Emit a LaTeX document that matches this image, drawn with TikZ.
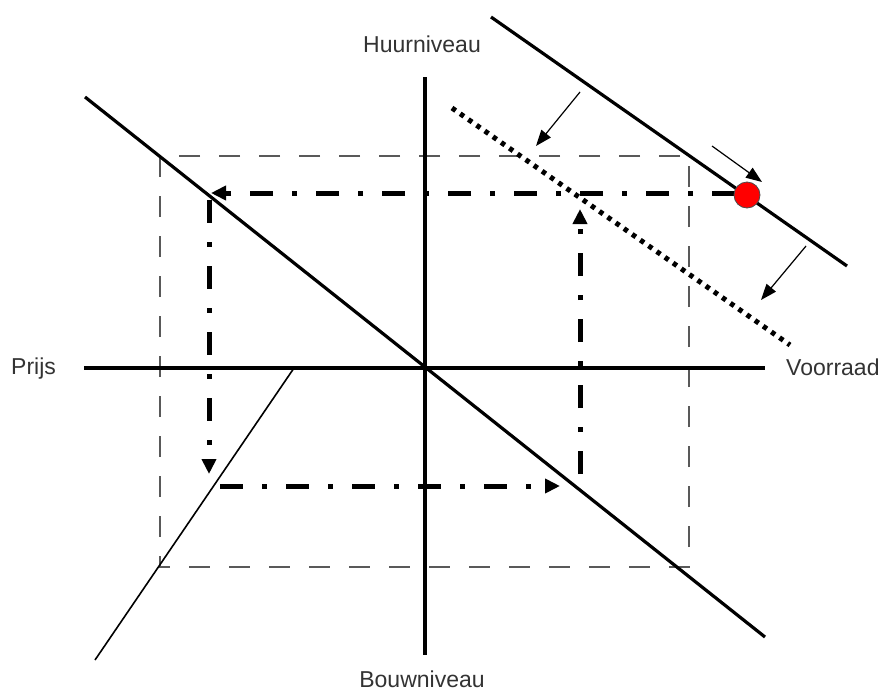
\documentclass[tikz,border=0pt]{standalone}
\usepackage{fontspec}
\setmainfont{Liberation Sans}
\usetikzlibrary{arrows.meta}
\tikzset{
  axis/.style={line width=3.3pt, black},
  curve/.style={line width=3.2pt, black},
  thincurve/.style={line width=1.6pt, black},
  shifted/.style={line width=5pt, black, dash pattern=on 4.5pt off 5.5pt},
  frame/.style={line width=1.3pt, black!65, dash pattern=on 21pt off 19pt},
  flow/.style={line width=5pt, black, dash pattern=on 23pt off 19pt on 5pt off 19pt,
    -{Triangle[length=15pt,width=14pt]}},
  shiftarrow/.style={line width=1.2pt, black, -{Triangle[length=16pt,width=12pt]}},
  lbl/.style={font=\fontsize{23}{27}\selectfont, text=black!80, inner sep=0pt},
  pt/.style={circle, fill=red, draw=black!70, line width=0.8pt, minimum size=26pt, inner sep=0pt}
}
\begin{document}
\begin{tikzpicture}[x=1pt,y=-1pt]
\useasboundingbox (0,0) rectangle (886,691);
% coordinates
\coordinate (vtop) at (425,77);
\coordinate (vbot) at (425,655);
\coordinate (hl) at (84,368);
\coordinate (hr) at (765,368);
\coordinate (d1) at (85,97);
\coordinate (d2) at (765,637);
\coordinate (u1) at (491,17);
\coordinate (u2) at (847,266);
\coordinate (t1) at (452,108);
\coordinate (t2) at (790,345);
\coordinate (s1) at (294,368);
\coordinate (s2) at (95,660);
\coordinate (r1) at (160,156);
\coordinate (r2) at (689,567);
\coordinate (a1s) at (735,193);
\coordinate (a1e) at (211,193);
\coordinate (a2s) at (209,200);
\coordinate (a2e) at (209,474);
\coordinate (a3s) at (220,486);
\coordinate (a3e) at (560,486);
\coordinate (a4s) at (580,474);
\coordinate (a4e) at (580,209);
\coordinate (m1s) at (580,92);
\coordinate (m1e) at (536,146);
\coordinate (m2s) at (712,146);
\coordinate (m2e) at (762,182);
\coordinate (m3s) at (806,246);
\coordinate (m3e) at (761,300);
% labels
\node[lbl, anchor=base] (huur) at (422,52) {Huurniveau};
\node[lbl, anchor=base west] (prijs) at (11,374) {Prijs};
\node[lbl, anchor=base west] (voorraad) at (786,375) {Voorraad};
\node[lbl, anchor=base] (bouw) at (422,687) {Bouwniveau};
% dashed frame
\draw[frame] (r1) rectangle (r2);
% axes
\draw[axis] (vtop) -- (vbot);
\draw[axis] (hl) -- (hr);
% curves
\draw[curve] (d1) -- (d2);
\draw[curve] (u1) -- (u2);
\draw[shifted] (t1) -- (t2);
\draw[thincurve] (s1) -- (s2);
% flow arrows
\draw[flow] (a1s) -- (a1e);
\draw[flow] (a2s) -- (a2e);
\draw[flow] (a3s) -- (a3e);
\draw[flow] (a4s) -- (a4e);
% shift arrows
\draw[shiftarrow] (m1s) -- (m1e);
\draw[shiftarrow] (m2s) -- (m2e);
\draw[shiftarrow] (m3s) -- (m3e);
% point
\node[pt] (P) at (747,195) {};
\end{tikzpicture}
\end{document}
